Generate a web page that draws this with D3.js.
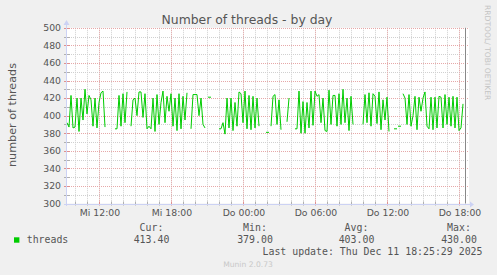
<!DOCTYPE html>
<html>
<head>
<meta charset="utf-8">
<script src="https://cdn.jsdelivr.net/npm/d3@7/dist/d3.min.js"></script>
<style>
body { margin: 0; background: #f0f0f0; }
svg text { font-family: "DejaVu Sans", sans-serif; }
svg text.mono { font-family: "DejaVu Sans Mono", monospace; }
</style>
</head>
<body>
<div id="chart"></div>
<script>
// samples every 10 min, first one Mi 10.12. 09:20, null = no data
var startTime = new Date(2025, 11, 10, 9, 20);
var endTime = new Date(2025, 11, 11, 18, 40);
var stepMin = 10;
var threads = [
	392, 387, 423, 386, 387, 420, 382, 420, 395, 430,
	402, 423, 418, 388, 420, 386, 415, 426, 428, 387,
	null, null, null, null, 385, 385, 423, 388, 425, 392,
	427, null, 388, 418, 420, 400, 427, 427, 398, 425,
	385, 388, 385, 420, 382, 424, 390, 415, 428, 392,
	422, 405, 425, 388, 420, 383, 425, 385, 422, 395,
	426, null, 385, 424, 424, 424, 400, 420, 390, 386,
	null, 421, null, null, null, null, 385, 385, 392, 379,
	420, 386, 420, 383, 415, 388, 427, 425, 392, 428,
	385, 423, 384, 422, 386, 420, 388, null, null, null,
	381, null, 388, 422, 424, 390, 418, 384, null, null,
	393, 420, null, null, 385, 385, 428, 380, 416, 380,
	415, 386, 428, 389, 428, 422, 424, 392, 420, 383,
	382, 429, 390, 423, 423, 388, 425, 390, 430, 392,
	420, 383, 422, 390, null, null, null, null, 390, 424,
	392, 426, 388, 425, 422, 391, 427, 384, 418, 395,
	421, 382, null, null, 385, null, 388, null, 425, 420,
	390, 424, 388, 400, 422, 384, 421, 405, 420, 427,
	388, 385, 421, 384, 421, 386, 422, 421, 386, 424,
	390, 421, 388, 422, 386, 421, 383, 386, 413.4
];

// axis labels
var tickTimes = [
	new Date(2025, 11, 10, 12), new Date(2025, 11, 10, 18),
	new Date(2025, 11, 11, 0), new Date(2025, 11, 11, 6),
	new Date(2025, 11, 11, 12), new Date(2025, 11, 11, 18)
];
var tickLabels = ["Mi 12:00", "Mi 18:00", "Do 00:00", "Do 06:00", "Do 12:00", "Do 18:00"];
var yTicks = [300, 320, 340, 360, 380, 400, 420, 440, 460, 480, 500];

// legend
var seriesName = "threads";
var legendHeads = ["Cur:", "Min:", "Avg:", "Max:"];
var legendValues = ["413.40", "379.00", "403.00", "430.00"];
var lastUpdate = "Last update: Thu Dec 11 18:25:29 2025";

var points = threads.map(function(v, i) {
	return { t: d3.timeMinute.offset(startTime, i * stepMin), v: v };
});

var x = d3.scaleTime().domain([startTime, endTime]).range([67, 467]);
var y = d3.scaleLinear().domain([300, 500]).range([203.5, 27.8]);

function px(v) { return Math.round(v) + 0.5; }

var svg = d3.select("#chart").append("svg")
	.attr("width", 497)
	.attr("height", 275);

svg.append("rect")
	.attr("width", 497).attr("height", 275)
	.attr("fill", "#f0f0f0");

// white plot area
svg.append("rect")
	.attr("x", 67).attr("y", y(500))
	.attr("width", 402).attr("height", y(300) - y(500))
	.attr("fill", "#ffffff");

// minor grid
var hours = d3.timeHour.every(1).range(startTime, endTime);
svg.selectAll("line.vminor").data(hours).enter().append("line")
	.attr("x1", function(d) { return px(x(d)); })
	.attr("x2", function(d) { return px(x(d)); })
	.attr("y1", y(500)).attr("y2", y(300))
	.attr("stroke", "#d0d0d0")
	.attr("stroke-dasharray", "1,1");

var yMinor = d3.range(310, 500, 20);
svg.selectAll("line.hminor").data(yMinor).enter().append("line")
	.attr("x1", 67).attr("x2", 469)
	.attr("y1", function(d) { return px(y(d)); })
	.attr("y2", function(d) { return px(y(d)); })
	.attr("stroke", "#d0d0d0")
	.attr("stroke-dasharray", "1,1");

// major grid
svg.selectAll("line.vmajor").data(tickTimes).enter().append("line")
	.attr("x1", function(d) { return px(x(d)); })
	.attr("x2", function(d) { return px(x(d)); })
	.attr("y1", y(500)).attr("y2", y(300))
	.attr("stroke", "#e6a8a8")
	.attr("stroke-dasharray", "1,1");

svg.selectAll("line.hmajor").data(yTicks.slice(1)).enter().append("line")
	.attr("x1", 67).attr("x2", 469)
	.attr("y1", function(d) { return px(y(d)); })
	.attr("y2", function(d) { return px(y(d)); })
	.attr("stroke", "#e6a8a8")
	.attr("stroke-dasharray", "1,1");

// small tick marks on the time axis
svg.selectAll("line.htick").data(hours).enter().append("line")
	.attr("x1", function(d) { return px(x(d)); })
	.attr("x2", function(d) { return px(x(d)); })
	.attr("y1", y(300) - 2).attr("y2", y(300) + 2)
	.attr("stroke", function(d) {
		return d.getHours() % 6 == 0 ? "#e09090" : "#b0b0b0";
	});

// y tick marks
svg.selectAll("line.ytick").data(d3.range(300, 510, 10)).enter().append("line")
	.attr("x1", 64).attr("x2", 70)
	.attr("y1", function(d) { return px(y(d)); })
	.attr("y2", function(d) { return px(y(d)); })
	.attr("stroke", function(d) { return d % 20 == 0 ? "#e09090" : "#b0b0b0"; });

// series
var line = d3.line()
	.defined(function(d) { return d.v != null; })
	.x(function(d) { return x(d.t); })
	.y(function(d) { return y(d.v); });

svg.append("path")
	.datum(points)
	.attr("d", line)
	.attr("fill", "none")
	.attr("stroke", "#00cc00")
	.attr("stroke-width", 1);

// single samples with no neighbour get a short dash
var lonely = points.filter(function(d, i) {
	var prev = i > 0 ? points[i - 1].v : null;
	var next = i < points.length - 1 ? points[i + 1].v : null;
	return d.v != null && prev == null && next == null;
});
svg.selectAll("line.lonely").data(lonely).enter().append("line")
	.attr("x1", function(d) { return x(d.t) - 1; })
	.attr("x2", function(d) { return x(d.t) + 2; })
	.attr("y1", function(d) { return y(d.v); })
	.attr("y2", function(d) { return y(d.v); })
	.attr("stroke", "#00cc00");

// grey line at the end of data
svg.append("line")
	.attr("x1", 465.5).attr("x2", 465.5)
	.attr("y1", y(500)).attr("y2", y(300))
	.attr("stroke", "#888888");

// axes with arrows
svg.append("line")
	.attr("x1", 64).attr("x2", 470)
	.attr("y1", px(y(300))).attr("y2", px(y(300)))
	.attr("stroke", "#ccd2f4");
svg.append("path")
	.attr("d", "M470," + (px(y(300)) - 3) + " L474," + px(y(300)) + " L470," + (px(y(300)) + 3) + "Z")
	.attr("fill", "#ccd2f4");

svg.append("line")
	.attr("x1", 66.5).attr("x2", 66.5)
	.attr("y1", 206).attr("y2", 24)
	.attr("stroke", "#ccd2f4");
svg.append("path")
	.attr("d", "M63.5,25 L66.5,20 L69.5,25Z")
	.attr("fill", "#ccd2f4");

// axis labels
svg.selectAll("text.xlab").data(tickTimes).enter().append("text")
	.attr("x", function(d) { return x(d) + 1; })
	.attr("y", 216)
	.attr("text-anchor", "middle")
	.attr("font-size", "9.3px")
	.attr("fill", "#555")
	.text(function(d, i) { return tickLabels[i]; });

svg.selectAll("text.ylab").data(yTicks).enter().append("text")
	.attr("x", 61)
	.attr("y", function(d) { return y(d) + 3.4; })
	.attr("text-anchor", "end")
	.attr("font-size", "9.3px")
	.attr("fill", "#555")
	.text(function(d) { return d; });

// titles
svg.append("text")
	.attr("x", 247).attr("y", 24)
	.attr("text-anchor", "middle")
	.attr("font-size", "12.4px")
	.attr("fill", "#555")
	.text("Number of threads - by day");

svg.append("text")
	.attr("transform", "translate(15.5,115) rotate(-90)")
	.attr("text-anchor", "middle")
	.attr("font-size", "11.2px")
	.attr("fill", "#555")
	.text("number of threads");

svg.append("text")
	.attr("transform", "translate(484.5,5) rotate(90)")
	.attr("font-size", "7.6px")
	.attr("fill", "#c4c4c4")
	.text("RRDTOOL/ TOBI OETIKER");

// legend
svg.append("rect")
	.attr("x", 14).attr("y", 237.3)
	.attr("width", 5.4).attr("height", 5.4)
	.attr("fill", "#00cc00");

svg.append("text")
	.attr("class", "mono")
	.attr("x", 26.7).attr("y", 242.7)
	.attr("font-size", "9.9px")
	.attr("fill", "#555")
	.text(seriesName);

var legendX = [151.5, 255, 356.5, 459];
legendHeads.forEach(function(h, i) {
	svg.append("text")
		.attr("class", "mono")
		.attr("x", legendX[i]).attr("y", 230.7)
		.attr("text-anchor", "middle")
		.attr("font-size", "9.9px")
		.attr("fill", "#555")
		.text(h);
	svg.append("text")
		.attr("class", "mono")
		.attr("x", legendX[i]).attr("y", 242.7)
		.attr("text-anchor", "middle")
		.attr("font-size", "9.9px")
		.attr("fill", "#555")
		.text(legendValues[i]);
});

svg.append("text")
	.attr("class", "mono")
	.attr("x", 482.5).attr("y", 254.8)
	.attr("text-anchor", "end")
	.attr("font-size", "9.9px")
	.attr("fill", "#555")
	.text(lastUpdate);

svg.append("text")
	.attr("x", 248).attr("y", 266.5)
	.attr("text-anchor", "middle")
	.attr("font-size", "7.6px")
	.attr("fill", "#c8c8c8")
	.text("Munin 2.0.73");
</script>
</body>
</html>
